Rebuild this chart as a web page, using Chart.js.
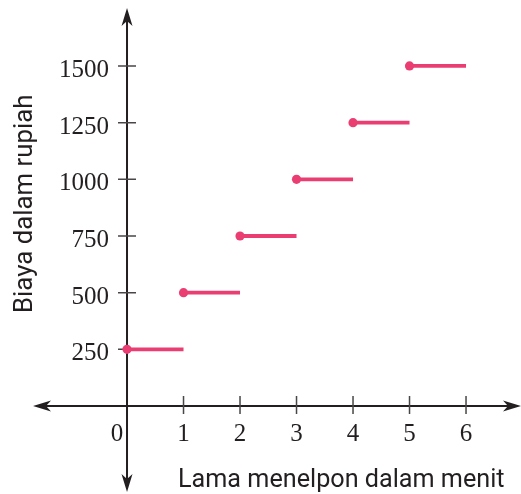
<!DOCTYPE html>
<html>
<head>
<meta charset="utf-8">
<script src="https://cdn.jsdelivr.net/npm/chart.js@4/dist/chart.umd.min.js"></script>
<style>
  body { margin: 0; background: #fff; }
  #wrap { width: 521px; height: 494px; }
</style>
</head>
<body>
<div id="wrap"><canvas id="chart" width="521" height="494"></canvas></div>
<script>
// data
let menitAwal = [0, 1, 2, 3, 4, 5];
let menitAkhir = [1, 2, 3, 4, 5, 6];
let biaya = [250, 500, 750, 1000, 1250, 1500];

let xTicks = [0, 1, 2, 3, 4, 5, 6];
let yTicks = [250, 500, 750, 1000, 1250, 1500];

let judulX = "Lama menelpon dalam menit";
let judulY = "Biaya dalam rupiah";

let pink = "#ea3e73";
let ink = "#231f20";

// one dataset per step, dot only at the left (closed) end
let datasets = [];
biaya.forEach((b, i) => {
    datasets.push({
        data: [
            { x: menitAwal[i], y: b },
            { x: menitAkhir[i], y: b }
        ],
        showLine: true,
        borderColor: pink,
        backgroundColor: pink,
        borderWidth: 3.8,
        pointRadius: [4.6, 0],
        pointHoverRadius: [4.6, 0],
        pointBorderWidth: 0,
        borderCapStyle: "butt"
    });
});

function panah(ctx, x, y, dx, dy) {
    // arrow head with tip at (x, y) pointing in (dx, dy)
    let len = 18, half = 5.5;
    let px = -dy, py = dx;
    ctx.beginPath();
    ctx.moveTo(x, y);
    ctx.lineTo(x - dx * len + px * half, y - dy * len + py * half);
    ctx.lineTo(x - dx * (len - 5), y - dy * (len - 5));
    ctx.lineTo(x - dx * len - px * half, y - dy * len - py * half);
    ctx.closePath();
    ctx.fill();
}

let sumbu = {
    id: "sumbu",
    beforeDatasetsDraw(chart) {
        let ctx = chart.ctx;
        let sx = chart.scales.x;
        let sy = chart.scales.y;
        let x0 = sx.getPixelForValue(0);
        let y0 = sy.getPixelForValue(0);
        let area = chart.chartArea;

        ctx.save();
        ctx.strokeStyle = ink;
        ctx.fillStyle = ink;
        ctx.lineWidth = 2;

        // axis lines
        ctx.beginPath();
        ctx.moveTo(area.left + 40, y0);
        ctx.lineTo(area.right - 8, y0);
        ctx.moveTo(x0, area.top + 16);
        ctx.lineTo(x0, area.bottom - 10);
        ctx.stroke();
        panah(ctx, area.left + 33, y0, -1, 0);
        panah(ctx, area.right, y0, 1, 0);
        panah(ctx, x0, area.top + 8, 0, -1);
        panah(ctx, x0, area.bottom - 2, 0, 1);

        // tick marks
        ctx.strokeStyle = "#4a4647";
        ctx.lineWidth = 1.5;
        ctx.beginPath();
        xTicks.forEach(v => {
            if (v === 0) return;
            let px = sx.getPixelForValue(v);
            ctx.moveTo(px, y0 - 10);
            ctx.lineTo(px, y0 + 8);
        });
        yTicks.forEach(v => {
            let py = sy.getPixelForValue(v);
            ctx.moveTo(x0 - 9, py);
            ctx.lineTo(x0 + 9, py);
        });
        ctx.stroke();

        // tick labels
        ctx.fillStyle = ink;
        ctx.font = "25px 'Liberation Serif'";
        ctx.textBaseline = "alphabetic";
        ctx.textAlign = "center";
        xTicks.forEach(v => {
            let px = sx.getPixelForValue(v);
            if (v === 0) px -= 10;
            ctx.fillText(String(v), px, y0 + 35);
        });
        ctx.textAlign = "right";
        yTicks.forEach(v => {
            let py = sy.getPixelForValue(v);
            ctx.fillText(String(v), x0 - 18, py + 11);
        });

        // axis titles
        ctx.font = "25.2px Roboto";
        ctx.textAlign = "left";
        ctx.fillText(judulX, 178, 487);

        ctx.save();
        ctx.font = "25.8px Roboto";
        ctx.translate(32, 313);
        ctx.rotate(-Math.PI / 2);
        ctx.fillText(judulY, 0, 0);
        ctx.restore();

        ctx.restore();
    }
};

let chart = new Chart(document.getElementById("chart").getContext("2d"), {
    type: "scatter",
    data: { datasets: datasets },
    options: {
        responsive: false,
        animation: false,
        layout: { padding: 0, autoPadding: false },
        plugins: {
            legend: { display: false },
            tooltip: { enabled: false }
        },
        scales: {
            x: { type: "linear", min: -2.248, max: 6.973, display: false },
            y: { type: "linear", min: -388, max: 1791, display: false }
        }
    },
    plugins: [sumbu]
});
</script>
</body>
</html>
